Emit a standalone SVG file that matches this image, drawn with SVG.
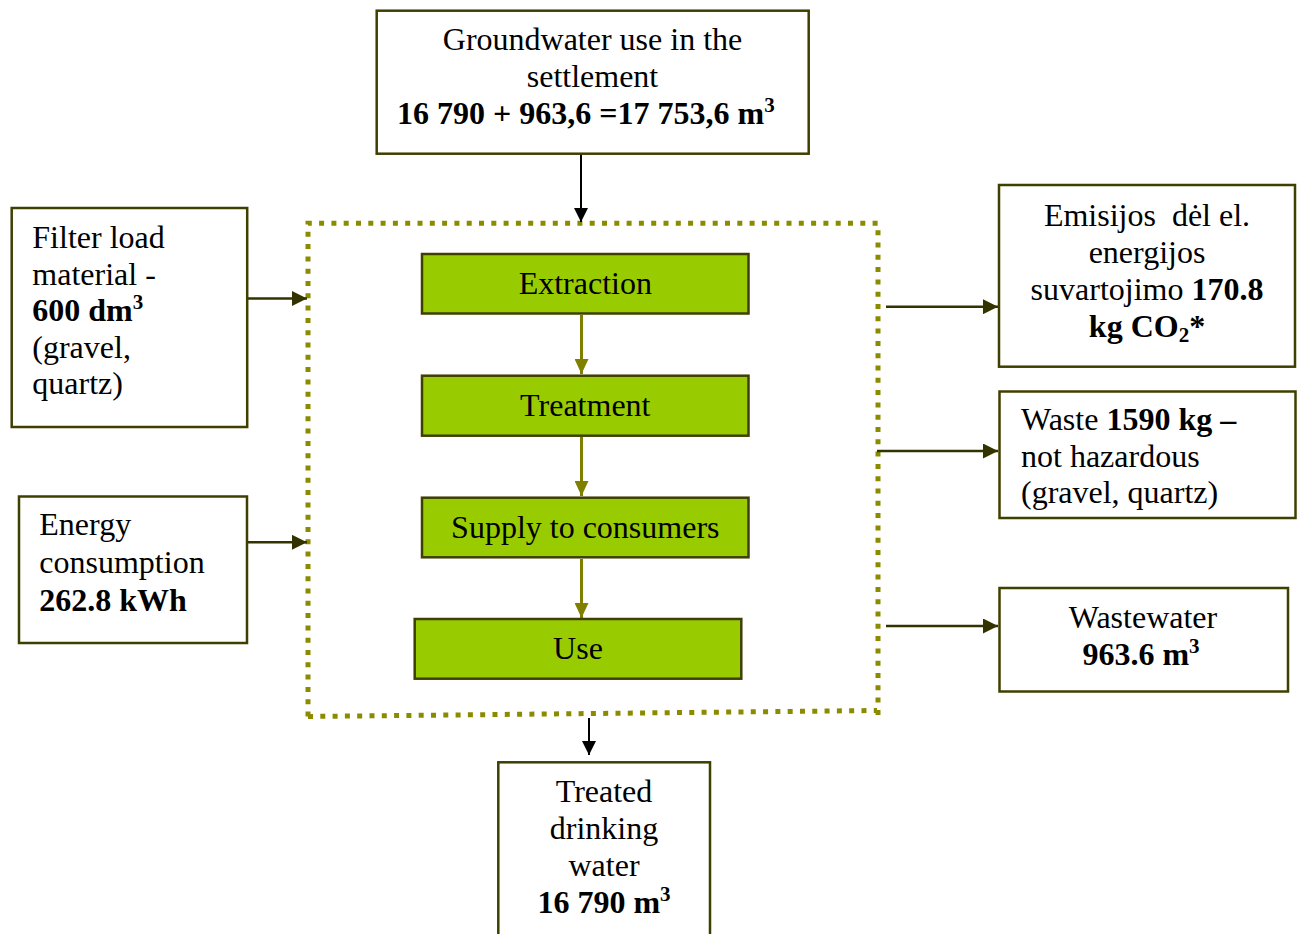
<svg xmlns="http://www.w3.org/2000/svg" width="1301" height="934" viewBox="0 0 1301 934">
  <defs>
    <style>
      text { font-family: "Liberation Serif", "Times New Roman", serif; font-size: 32px; fill: #000; }
      .b { font-weight: bold; }
      .mid { text-anchor: middle; }
      .box { fill: #fff; stroke: #3f3f00; stroke-width: 2.5; }
      .step { fill: #99cc00; stroke: #3f3f00; stroke-width: 2.5; }
      .frame { fill: none; stroke: #8b8b00; stroke-width: 5; stroke-dasharray: 5 7.3; }
      .flow { stroke: #808000; stroke-width: 3; fill: none; }
      .side { stroke: #333300; stroke-width: 2.5; fill: none; }
      .main { stroke: #000; stroke-width: 2; fill: none; }
      .sup { font-size: 21px; }
    </style>
    <marker id="ahFlow" viewBox="0 0 15 14" refX="15" refY="7" markerWidth="15" markerHeight="14" markerUnits="userSpaceOnUse" orient="auto">
      <path d="M0,0 L15,7 L0,14 Z" fill="#808000"/>
    </marker>
    <marker id="ahSide" viewBox="0 0 15 15" refX="15" refY="7.5" markerWidth="15" markerHeight="15" markerUnits="userSpaceOnUse" orient="auto">
      <path d="M0,0 L15,7.5 L0,15 Z" fill="#333300"/>
    </marker>
    <marker id="ahMain" viewBox="0 0 14 14" refX="14" refY="7" markerWidth="14" markerHeight="14" markerUnits="userSpaceOnUse" orient="auto">
      <path d="M0,0 L14,7 L0,14 Z" fill="#000"/>
    </marker>
  </defs>

  <rect width="1301" height="934" fill="#fff"/>

  <!-- process boundary -->
  <g id="boundary">
    <path class="frame" d="M308,716.5 V223.3 H878 V716"/>
    <path class="frame" d="M308,716.5 L877,710.5"/>
  </g>

  <g id="connectors">
    <line class="main" x1="581" y1="154" x2="581" y2="222" marker-end="url(#ahMain)"/>
    <line class="main" x1="589" y1="718" x2="589" y2="755" marker-end="url(#ahMain)"/>
    <line class="flow" x1="581.5" y1="315" x2="581.5" y2="374" marker-end="url(#ahFlow)"/>
    <line class="flow" x1="581.5" y1="437" x2="581.5" y2="496" marker-end="url(#ahFlow)"/>
    <line class="flow" x1="581.5" y1="559" x2="581.5" y2="618" marker-end="url(#ahFlow)"/>
    <line class="side" x1="248" y1="298.5" x2="307" y2="298.5" marker-end="url(#ahSide)"/>
    <line class="side" x1="248" y1="542.3" x2="307" y2="542.3" marker-end="url(#ahSide)"/>
    <line class="side" x1="886" y1="306.7" x2="998" y2="306.7" marker-end="url(#ahSide)"/>
    <line class="side" x1="877" y1="451" x2="998" y2="451" marker-end="url(#ahSide)"/>
    <line class="side" x1="886" y1="626" x2="998" y2="626" marker-end="url(#ahSide)"/>
  </g>

  <g id="groundwater">
    <rect class="box" x="376.7" y="10.7" width="432" height="143"/>
    <text class="mid" x="592.5" y="50">Groundwater use in the</text>
    <text class="mid" x="592.5" y="87">settlement</text>
    <text class="b" x="397" y="124">16 790 + 963,6 =17 753,6 m<tspan class="sup" dy="-12">3</tspan></text>
  </g>

  <g id="extraction">
    <rect class="step" x="422" y="254" width="326.5" height="59.5"/>
    <text class="mid" x="585.3" y="294">Extraction</text>
  </g>
  <g id="treatment">
    <rect class="step" x="422" y="375.7" width="326.5" height="60"/>
    <text class="mid" x="585.3" y="416">Treatment</text>
  </g>
  <g id="supply">
    <rect class="step" x="422" y="497.7" width="326.5" height="59.6"/>
    <text class="mid" x="585.3" y="537.5">Supply to consumers</text>
  </g>
  <g id="use">
    <rect class="step" x="414.7" y="619" width="326.6" height="59.7"/>
    <text class="mid" x="578" y="658.5">Use</text>
  </g>

  <g id="filter">
    <rect class="box" x="11.7" y="208" width="235.5" height="219"/>
    <text x="32.3" y="248">Filter load</text>
    <text x="32.3" y="285">material -</text>
    <text class="b" x="32.3" y="321">600 dm<tspan class="sup" dy="-12">3</tspan></text>
    <text x="32.3" y="358">(gravel,</text>
    <text x="32.3" y="394">quartz)</text>
  </g>

  <g id="energy">
    <rect class="box" x="19" y="496.5" width="228" height="146.5"/>
    <text x="39.3" y="535">Energy</text>
    <text x="39.3" y="573">consumption</text>
    <text class="b" x="39.3" y="611">262.8 kWh</text>
  </g>

  <g id="emissions">
    <rect class="box" x="999" y="185" width="296" height="181.7"/>
    <text class="mid" x="1147" y="226" xml:space="preserve">Emisijos  dėl el.</text>
    <text class="mid" x="1147" y="263">energijos</text>
    <text class="mid" x="1147" y="300">suvartojimo <tspan class="b">170.8</tspan></text>
    <text class="mid b" x="1147" y="337">kg CO<tspan class="sup" dy="5">2</tspan><tspan dy="-5">*</tspan></text>
  </g>

  <g id="waste">
    <rect class="box" x="999.5" y="391.5" width="296" height="126.5"/>
    <text x="1021" y="430">Waste <tspan class="b">1590 kg –</tspan></text>
    <text x="1021" y="467">not hazardous</text>
    <text x="1021" y="503">(gravel, quartz)</text>
  </g>

  <g id="wastewater">
    <rect class="box" x="999.5" y="588" width="288.5" height="103.5"/>
    <text class="mid" x="1143" y="628">Wastewater</text>
    <text class="mid b" x="1141" y="665">963.6 m<tspan class="sup" dy="-12">3</tspan></text>
  </g>

  <g id="drinking-water">
    <rect class="box" x="498.3" y="762.3" width="211.7" height="190"/>
    <text class="mid" x="604" y="802">Treated</text>
    <text class="mid" x="604" y="838.5">drinking</text>
    <text class="mid" x="604" y="876">water</text>
    <text class="mid b" x="604" y="913">16 790 m<tspan class="sup" dy="-12">3</tspan></text>
  </g>
</svg>
